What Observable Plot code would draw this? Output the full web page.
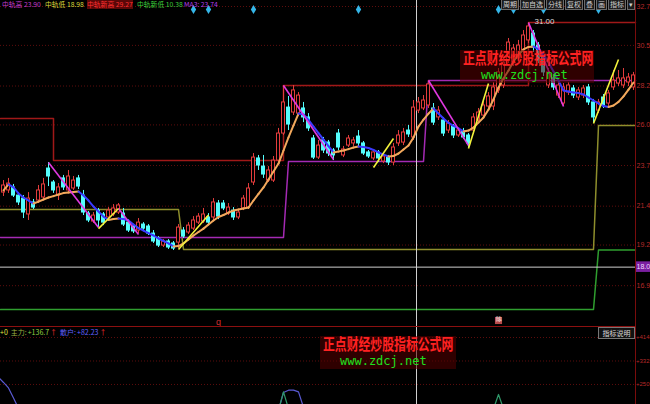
<!DOCTYPE html>
<html><head><meta charset="utf-8">
<script src="https://cdn.jsdelivr.net/npm/d3@7"></script>
<script src="https://cdn.jsdelivr.net/npm/@observablehq/plot@0.6"></script>
<style>
html,body{margin:0;padding:0;background:#000;}
#wrap{position:relative;width:650px;height:404px;overflow:hidden;background:#000;font-family:"Noto Sans CJK SC","DejaVu Sans",sans-serif;}
#main{position:absolute;left:0;top:0;}
#sub{position:absolute;left:0;top:327px;}
.abs{position:absolute;}
.wm{position:absolute;background:rgba(85,0,0,0.55);}
.wm .cn{position:absolute;left:3px;top:-3px;font-size:16px;line-height:20px;font-weight:bold;color:#ff2222;white-space:nowrap;transform:scaleX(0.74);transform-origin:left top;}
.wm .en{position:absolute;font-family:"DejaVu Sans Mono",monospace;font-size:12px;line-height:13px;color:#1fe01f;white-space:nowrap;}
#legend span,#bleg span{white-space:nowrap;}
#toolbar{position:absolute;left:501px;top:-2px;display:flex;}
#toolbar span{font-size:7px;line-height:10px;height:10px;color:#cfcfcf;background:#1c1c1c;border:1px solid #6a6a6a;padding:0 1px;margin-right:1px;white-space:nowrap;}
</style></head>
<body>
<div id="wrap">
  <div id="main"></div>
  <div id="sub"></div>
  <div class="abs" style="left:0;top:326px;width:636px;height:1px;background:#8c1010"></div>
  <div class="abs" style="left:635px;top:0;width:1px;height:404px;background:#7a0c0c"></div>
  <div id="legend" class="abs" style="left:0;top:0;height:9px;width:240px;font-size:6.8px;line-height:9px;"></div>
  <div id="toolbar"></div>
  <div class="wm" style="left:460px;top:50px;width:134px;height:33px;">
    <div class="cn">正点财经炒股指标公式网</div>
    <div class="en" style="left:21px;top:19px;">www.zdcj.net</div>
  </div>
  <div class="wm" style="left:320px;top:336px;width:136px;height:33px;">
    <div class="cn">正点财经炒股指标公式网</div>
    <div class="en" style="left:20px;top:19px;">www.zdcj.net</div>
  </div>
  <div id="bleg" class="abs" style="left:0;top:327px;height:11px;font-size:7px;line-height:11px;white-space:nowrap;"></div>
  <div class="abs" style="left:598px;top:327px;width:35px;height:10px;border:1px solid #777;background:#111;font-size:7px;line-height:10px;color:#ddd;text-align:center;">指标说明</div>
</div>
<script>
// ---------- data ----------
const open = [
22.17,22.29,22.46,22.00,21.83,20.93,21.61,21.72,21.89,23.53,
22.74,22.00,22.97,22.29,22.40,22.97,22.00,20.98,20.53,21.15,
20.93,20.76,20.93,21.04,20.98,20.47,20.25,20.02,20.36,20.25,
19.85,19.57,19.17,19.40,19.29,19.34,20.02,19.91,20.13,20.47,
20.53,20.76,20.76,21.55,21.55,20.98,21.15,20.76,21.27,21.32,
22.74,24.10,23.64,22.85,22.85,23.98,25.51,26.98,26.70,26.64,
26.93,26.42,25.23,24.15,25.12,25.00,24.55,25.51,24.27,24.83,
24.95,25.34,24.95,24.44,24.10,24.44,23.93,24.15,23.87,24.95,
25.00,25.68,25.29,26.81,26.93,27.10,26.93,26.42,26.25,25.68,
25.91,25.40,25.63,25.40,25.68,26.25,26.53,27.04,27.04,27.95,
28.23,29.64,29.53,29.76,30.21,30.78,31.17,30.49,29.93,28.23,
28.63,27.66,27.21,27.83,28.06,27.55,27.66,28.12,27.27,26.81,
27.55,27.21,28.12,28.34,28.23,28.40,28.12];
const high = [
22.85,22.97,22.63,22.17,22.00,22.17,21.78,22.57,22.97,23.87,
22.85,22.68,23.14,23.42,23.08,23.14,22.29,21.10,21.04,21.27,
21.04,21.32,21.49,21.55,21.27,20.64,20.36,20.70,20.47,20.36,
20.02,19.68,19.51,19.51,19.40,20.36,20.19,20.47,20.81,20.98,
21.27,20.98,21.83,21.72,21.72,21.55,21.32,21.21,22.00,22.68,
24.38,24.27,24.27,23.64,24.21,25.80,28.23,27.61,28.23,27.83,
27.27,26.64,25.40,25.12,25.29,25.12,24.66,25.74,24.78,25.40,
25.29,25.68,25.06,24.55,24.61,24.55,24.38,24.27,24.95,25.68,
25.80,25.97,27.38,27.55,27.66,28.51,27.21,27.04,26.42,26.25,
26.02,25.80,25.80,25.51,26.64,26.93,27.38,27.83,28.40,29.19,
29.81,30.89,30.55,30.78,31.34,31.79,31.34,30.66,30.10,29.19,
28.85,28.51,28.34,28.40,28.23,28.12,28.23,28.29,27.44,27.44,
27.72,27.95,29.08,29.08,29.19,28.91,28.97];
const low = [
21.95,22.12,21.89,21.44,20.70,20.59,21.21,21.55,21.72,22.51,
22.12,21.72,22.29,22.17,22.29,22.34,20.87,20.47,20.42,20.19,
20.30,20.64,20.81,20.93,20.25,19.91,19.85,19.85,20.02,19.74,
19.29,19.06,19.06,18.95,18.89,19.00,19.57,19.80,20.02,20.36,
20.42,20.36,20.59,20.64,21.15,20.87,20.59,20.64,21.15,21.21,
22.57,23.42,22.97,22.74,22.74,23.81,25.40,25.68,26.53,26.47,
26.13,25.63,24.04,24.04,24.38,24.21,23.98,24.55,24.15,24.72,
24.78,24.78,24.27,24.10,23.98,23.87,23.81,23.70,23.70,24.78,
24.83,25.29,25.12,26.64,26.81,26.93,25.97,26.25,25.34,25.51,
25.23,25.29,25.17,24.72,25.46,26.08,26.36,26.81,26.81,27.78,
28.06,29.47,29.30,29.53,30.04,30.61,30.10,29.47,28.74,28.06,
27.95,27.49,27.04,27.66,27.49,27.38,27.49,27.10,26.08,26.64,
26.93,27.04,27.95,28.17,28.06,28.17,27.95];
const close = [
22.57,22.68,22.00,21.61,21.04,21.83,21.32,22.29,22.63,23.08,
22.29,22.46,22.46,23.08,22.85,22.51,21.04,20.59,20.87,20.59,
20.47,21.15,21.27,21.44,20.36,20.02,19.97,20.47,20.13,19.85,
19.40,19.17,19.40,19.06,19.00,20.19,19.68,20.30,20.59,20.81,
20.93,20.47,21.61,20.81,21.27,21.32,20.76,21.04,21.83,22.40,
24.15,23.70,23.19,23.42,23.98,25.51,27.27,26.02,27.95,27.66,
26.42,25.80,24.15,24.83,24.55,24.38,24.27,24.72,24.61,25.23,
25.12,24.95,24.38,24.21,24.44,24.10,24.21,23.87,24.72,25.40,
25.57,25.46,26.98,27.27,27.38,28.29,26.13,26.81,25.51,26.08,
25.40,25.68,25.29,24.95,26.42,26.70,27.10,27.61,28.12,28.97,
29.53,30.66,30.32,30.49,31.06,31.57,30.38,29.64,28.97,28.97,
28.12,28.23,28.12,28.23,27.66,27.95,28.06,27.27,26.42,27.27,
27.10,27.78,28.51,28.63,28.63,28.68,28.80];
const ma3 = [
22.29,22.63,22.46,22.12,21.89,21.72,21.55,21.66,21.78,21.89,
21.97,22.06,22.14,22.17,22.20,22.23,22.00,21.72,21.38,21.10,
20.81,20.62,20.67,20.70,20.67,20.59,20.36,20.16,20.02,19.88,
19.74,19.57,19.43,19.29,19.12,19.14,19.29,19.51,19.74,19.94,
20.13,20.36,20.59,20.79,20.90,21.04,21.15,21.21,21.27,21.32,
21.72,22.09,22.46,22.91,23.36,23.81,24.55,25.29,25.97,26.64,
26.59,26.28,25.91,25.54,25.17,24.80,24.44,24.49,24.55,24.63,
24.72,24.78,24.75,24.69,24.58,24.44,24.32,24.21,24.24,24.38,
24.61,24.83,25.29,25.91,26.30,26.64,26.93,26.64,26.36,26.11,
25.94,25.80,25.63,25.68,25.85,26.13,26.42,26.87,27.44,28.12,
28.63,29.08,29.59,29.98,30.27,30.41,30.44,30.27,29.98,29.53,
29.02,28.51,27.95,27.89,27.83,27.80,27.72,27.55,27.38,27.21,
27.07,27.01,27.10,27.30,27.61,28.00,28.40];

// x domain (candle index units)
const X0 = -0.6, X1 = 126.4, XMAX = 129.4;

// zigzag: high -> low (magenta) and low -> high (yellow)
const downFromIdx = [9, 23, 56, 85, 105];
const downFromVal = [23.87, 21.27, 28.23, 28.51, 31.79];
const downToIdx   = [19, 27, 66, 93, 112];
const downToVal   = [20.19, 19.80, 24.04, 24.83, 27.04];
const upFromIdx = [19, 35, 74, 93, 118];
const upFromVal = [20.13, 18.95, 23.59, 24.66, 26.08];
const upToIdx   = [23, 41, 78, 97, 123];
const upToVal   = [21.27, 20.90, 25.23, 28.34, 29.70];

// band lines
const resistIdx  = [X0, 10, 56, 105];
const resistVal  = [26.36, 23.98, 28.23, 31.79];
const supportIdx = [X0, 56, 57, 84, 85];
const supportVal = [19.63, 19.63, 23.93, 23.93, 28.51];
const midIdx     = [X0, 35, 36, 118, 119];
const midVal     = [21.21, 21.21, 18.95, 18.95, 25.97];
const lowIdx     = [X0, 118, 119];
const lowVal     = [15.55, 15.55, 18.92];

const lastPrice = 17.95, lastLabel = "18.0";
const cursorIdx = 82.6;
const signalIdx = [38, 41, 50, 71, 99, 102, 108, 119];
const peakLabel = "31.00";
const qIdx = 43, qLabel = "q";
const exIdx = 99, exLabel = "除";

const priceTicks  = [32.7, 30.5, 28.2, 26.0, 23.7, 21.4, 19.2, 16.9];
const priceLabels = ["32.7","30.5","28.2","26.0","23.7","21.4","19.2","16.9"];

// lower panel (主力 / 散户)
const subTicks  = [414, 332, 250];
const subLabels = ["+414","+332","+250"];
const sanhuIdx = [-1, 0, 1, 2, 3, NaN, 55, 56, 57, 58, 59, 60];
const sanhuVal = [275, 257, 238, 203, 166, NaN, 160, 222, 230, 230, 224, 170];
const zhuliIdx = [55, 56, 57, NaN, 98, 99, 100];
const zhuliVal = [160, 224, 165, NaN, 165, 215, 165];

const legendNames  = ["中轨高","中轨低","中轨新高","中轨新低","MA3:"];
const legendValues = ["23.90","18.98","29.27","10.38","23.74"];
const toolbarItems = ["周期","加自选","分线","复权","叠","画","指标","▾"];
const subLegend = ["+0","主力:","+136.7","↑","散户:","+82.23","↑"];

// ---------- build ----------
const RED="#e23c3c", CYAN="#54fcfc", ORANGE="#f2a85c", BLUE="#3a3aff", MAG="#e038e0", YEL="#f2f23c";
const AXFONT = "Liberation Sans, Arial, sans-serif";
const N = open.length;
const candles = d3.range(N).map(i => ({i, o: open[i], h: high[i], l: low[i], c: close[i], up: close[i] >= open[i]}));
const maSegs = d3.range(N - 1).map(i => ({x1: i, y1: ma3[i], x2: i + 1, y2: ma3[i + 1], up: ma3[i + 1] >= ma3[i]}));
const seg = (fi, fv, ti, tv) => fi.map((f, k) => ({x1: f, y1: fv[k], x2: ti[k], y2: tv[k]}));
const downSegs = seg(downFromIdx, downFromVal, downToIdx, downToVal);
const upSegs = seg(upFromIdx, upFromVal, upToIdx, upToVal);
const band = (idx, val) => idx.map((x, k) => ({x, y: val[k]})).concat([{x: X1, y: val[val.length - 1]}]);
const pk = d3.maxIndex(high);
const peak = {i: pk, v: high[pk]};

const main = Plot.plot({
  width: 650, height: 326, margin: 0,
  style: {background: "transparent", fontFamily: AXFONT},
  x: {domain: [X0, XMAX], axis: null},
  y: {domain: [14.59, 33.04], axis: null},
  color: {type: "identity"},
  marks: [
    Plot.ruleY(priceTicks, {x1: X0, x2: X1, stroke: "#5e0d0d", strokeDasharray: "1,2"}),
    Plot.line(band(lowIdx, lowVal), {x: "x", y: "y", stroke: "#2f9e2f"}),
    Plot.line(band(midIdx, midVal), {x: "x", y: "y", stroke: "#8e8e2c"}),
    Plot.line(band(supportIdx, supportVal), {x: "x", y: "y", stroke: "#a42ab4"}),
    Plot.line(band(resistIdx, resistVal), {x: "x", y: "y", stroke: "#a01818", curve: "step-after"}),
    Plot.ruleY([lastPrice], {x1: X0, x2: X1, stroke: "#cfcfcf"}),
    Plot.ruleX([cursorIdx], {stroke: "#cfcfcf"}),
    Plot.ruleX(candles, {x: "i", y1: "l", y2: "h", stroke: d => d.up ? RED : CYAN}),
    Plot.rect(candles, {x1: d => d.i - 0.3, x2: d => d.i + 0.3, y1: "o", y2: "c",
      fill: d => d.up ? "#000" : CYAN, stroke: d => d.up ? RED : CYAN, strokeWidth: 1}),
    Plot.link(maSegs, {x1: "x1", y1: "y1", x2: "x2", y2: "y2", stroke: d => d.up ? ORANGE : BLUE, strokeWidth: 2, strokeLinecap: "round"}),
    Plot.link(downSegs, {x1: "x1", y1: "y1", x2: "x2", y2: "y2", stroke: MAG, strokeWidth: 1.6}),
    Plot.link(upSegs, {x1: "x1", y1: "y1", x2: "x2", y2: "y2", stroke: YEL, strokeWidth: 1.6}),
    Plot.dot(signalIdx, {x: d => d, frameAnchor: "top", dy: 9, symbol: "diamond", r: 2.8, fill: "#35b6e8"}),
    Plot.text([peak], {x: "i", y: "v", text: () => peakLabel, dx: 6, dy: -1, textAnchor: "start", fill: "#d8d8d8", fontSize: 8}),
    Plot.text(priceTicks, {x: X1, y: d => d, text: (d, k) => priceLabels[k], dx: 1, textAnchor: "start", fill: "#b82a2a", fontSize: 7}),
    Plot.rect([lastPrice], {x1: X1 + 0.1, x2: XMAX, y1: d => d - 0.3, y2: d => d + 0.3, fill: "#7a1fa0"}),
    Plot.text([lastPrice], {x: X1, y: d => d, text: () => lastLabel, dx: 1, textAnchor: "start", fill: "#f0d8ff", fontSize: 7}),
    Plot.text([qIdx], {x: d => d, frameAnchor: "bottom", dy: -2, lineAnchor: "bottom", text: () => qLabel, fill: "#d03030", fontSize: 9}),
    Plot.dot([exIdx], {x: d => d, frameAnchor: "bottom", dy: -6, symbol: "square", r: 4, fill: "#b84a4a"}),
    Plot.text([exIdx], {x: d => d, frameAnchor: "bottom", dy: -6, text: () => exLabel, fill: "#fff", fontSize: 6})
  ]
});
document.getElementById("main").appendChild(main);

const sanhu = sanhuIdx.map((x, k) => ({x, y: sanhuVal[k]}));
const zhuli = zhuliIdx.map((x, k) => ({x, y: zhuliVal[k]}));
const sub = Plot.plot({
  width: 650, height: 77, margin: 0,
  style: {background: "transparent", fontFamily: AXFONT},
  x: {domain: [X0, XMAX], axis: null},
  y: {domain: [180, 449], axis: null},
  marks: [
    Plot.ruleY(subTicks, {x1: X0, x2: X1, stroke: "#5e0d0d", strokeDasharray: "1,2"}),
    Plot.line(sanhu, {x: "x", y: "y", stroke: "#5a5ad2", strokeWidth: 1.2, clip: true}),
    Plot.line(zhuli, {x: "x", y: "y", stroke: "#2f9a6a", strokeWidth: 1.2, clip: true}),
    Plot.ruleX([cursorIdx], {stroke: "#cfcfcf"}),
    Plot.text(subTicks, {x: X1, y: d => d, text: (d, k) => subLabels[k], dx: 0.5, textAnchor: "start", fill: "#b82a2a", fontSize: 6})
  ]
});
document.getElementById("sub").appendChild(sub);

// legend row (top)
const legendColors = ["#c23ccc","#d8d83a","#ff3030","#3ccf3c","#b23ce8"];
const legendLeft = [2, 45, 87, 137, 184];
const lg = document.getElementById("legend");
legendNames.forEach((n, k) => {
  const s = document.createElement("span");
  s.style.cssText = `position:absolute;left:${legendLeft[k]}px;top:0;color:${legendColors[k]};` + (k === 2 ? "background:#5a0808;" : "");
  s.textContent = `${n} ${legendValues[k]}`;
  lg.appendChild(s);
});
const tb = document.getElementById("toolbar");
toolbarItems.forEach(t => { const s = document.createElement("span"); s.textContent = t; tb.appendChild(s); });
const bl = document.getElementById("bleg");
const subColors = ["#e0e040","#9cb040","#8fd040","#ff3030","#6060ff","#6060ff","#ff3030"];
subLegend.forEach((t, k) => {
  const s = document.createElement("span");
  s.style.color = subColors[k];
  s.style.marginRight = (k === 0 || k === 3) ? "3px" : "1px";
  s.textContent = t;
  bl.appendChild(s);
});
</script>
</body></html>
